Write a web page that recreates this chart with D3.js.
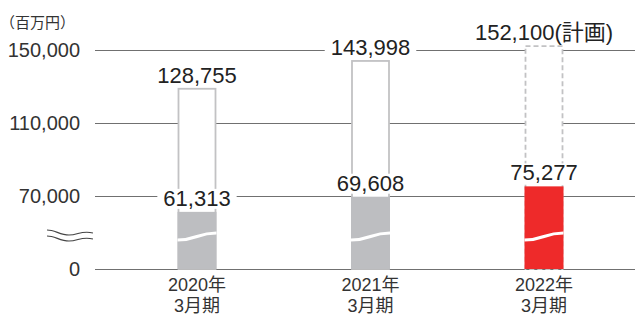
<!DOCTYPE html>
<html>
<head>
<meta charset="utf-8">
<script src="https://cdn.jsdelivr.net/npm/d3@7"></script>
<style>
  body { margin: 0; background: #fff; }
  text { font-family: "Liberation Sans", "Noto Sans CJK JP", sans-serif; }
</style>
</head>
<body>
<svg id="chart"></svg>
<script>
const WIDTH = 635;
const HEIGHT = 315;

// data
const years = ["2020年", "2021年", "2022年"];
const periodLabel = "3月期";
const totals = [128755, 143998, 152100];
const firstHalf = [61313, 69608, 75277];
const totalSuffix = ["", "", "(計画)"];
const isPlan = [false, false, true];
const yTicks = [0, 70000, 110000, 150000];
const unitLabel = "（百万円）";

// the axis is broken: the baseline labelled "0" sits where 30,000 would be
const AXIS_FLOOR = 30000;

const svg = d3.select("#chart").attr("width", WIDTH).attr("height", HEIGHT);

const y = d3.scaleLinear().domain([AXIS_FLOOR, 150000]).range([269, 50]);
const yv = (v) => y(v === 0 ? AXIS_FLOOR : v);

const x = d3.scalePoint().domain(years).range([197, 544]);
const barW = 37;

const data = years.map((year, i) => ({
  year,
  total: totals[i],
  first: firstHalf[i],
  suffix: totalSuffix[i],
  plan: isPlan[i],
}));

// gridlines
svg.append("g")
  .selectAll("line")
  .data(yTicks)
  .join("line")
  .attr("x1", 95)
  .attr("x2", WIDTH)
  .attr("y1", (d) => Math.round(yv(d)) + 0.5)
  .attr("y2", (d) => Math.round(yv(d)) + 0.5)
  .attr("stroke", "#707070")
  .attr("stroke-width", 1.2);

// y tick labels
svg.append("g")
  .selectAll("text")
  .data(yTicks)
  .join("text")
  .attr("x", 80)
  .attr("y", (d) => yv(d))
  .attr("dy", "0.36em")
  .attr("text-anchor", "end")
  .attr("font-size", 20)
  .attr("fill", "#333")
  .text((d) => d3.format(",")(d));

svg.append("text")
  .attr("x", 0)
  .attr("y", 28)
  .attr("font-size", 15)
  .attr("fill", "#333")
  .text(unitLabel);

// axis break mark
const breakG = svg.append("g").attr("fill", "none").attr("stroke", "#444").attr("stroke-width", 1.1);
[232, 238].forEach((by) => {
  breakG.append("path")
    .attr("d", `M47,${by - 2} C55,${by - 2} 60,${by + 3} 69,${by + 3} C78,${by + 3} 82,${by - 2} 93,${by + 1}`);
});

// total bars (outline)
svg.append("g")
  .selectAll("rect")
  .data(data)
  .join("rect")
  .attr("x", (d) => x(d.year) - barW / 2)
  .attr("y", (d) => y(d.total))
  .attr("width", barW)
  .attr("height", (d) => y(AXIS_FLOOR) - y(d.total))
  .attr("fill", "#fff")
  .attr("stroke", "#c2c2c4")
  .attr("stroke-width", 1.8)
  .attr("stroke-dasharray", (d) => (d.plan ? "5,3" : null));

// first-half bars
svg.append("g")
  .selectAll("rect")
  .data(data)
  .join("rect")
  .attr("x", (d) => x(d.year) - barW / 2 - 1)
  .attr("y", (d) => y(d.first))
  .attr("width", barW + 2)
  .attr("height", (d) => y(AXIS_FLOOR) - y(d.first))
  .attr("fill", (d) => (d.plan ? "#ee2a2a" : "#bdbec1"));

// white wave break in bars
svg.append("g")
  .selectAll("path")
  .data(data)
  .join("path")
  .attr("d", (d) => {
    const x0 = x(d.year) - barW / 2 - 1;
    const x1 = x(d.year) + barW / 2 + 1;
    const m = (x0 + x1) / 2;
    return `M${x0},240 C${m},240 ${m},233 ${x1},233`;
  })
  .attr("fill", "none")
  .attr("stroke", "#fff")
  .attr("stroke-width", 3.2);

// value labels with white backing
function label(sel, getY, getText) {
  const g = sel.append("g");
  data.forEach((d) => {
    const t = g.append("text")
      .attr("x", x(d.year))
      .attr("y", getY(d))
      .attr("text-anchor", "middle")
      .attr("font-size", 22)
      .attr("fill", "#222")
      .text(getText(d));
    const b = t.node().getBBox();
    g.insert("rect", () => t.node())
      .attr("x", b.x - 6)
      .attr("y", b.y + 3)
      .attr("width", b.width + 12)
      .attr("height", b.height - 5)
      .attr("fill", "#fff");
  });
}

label(svg, (d) => y(d.total) - 6, (d) => d3.format(",")(d.total) + d.suffix);
label(svg, (d) => y(d.first) - 6, (d) => d3.format(",")(d.first));

// x labels
const xl = svg.append("g")
  .selectAll("text")
  .data(years)
  .join("text")
  .attr("x", (d) => x(d))
  .attr("text-anchor", "middle")
  .attr("font-size", 18)
  .attr("fill", "#333");
xl.append("tspan").attr("x", (d) => x(d)).attr("y", 291).text((d) => d);
xl.append("tspan").attr("x", (d) => x(d)).attr("y", 312).text(periodLabel);
</script>
</body>
</html>
